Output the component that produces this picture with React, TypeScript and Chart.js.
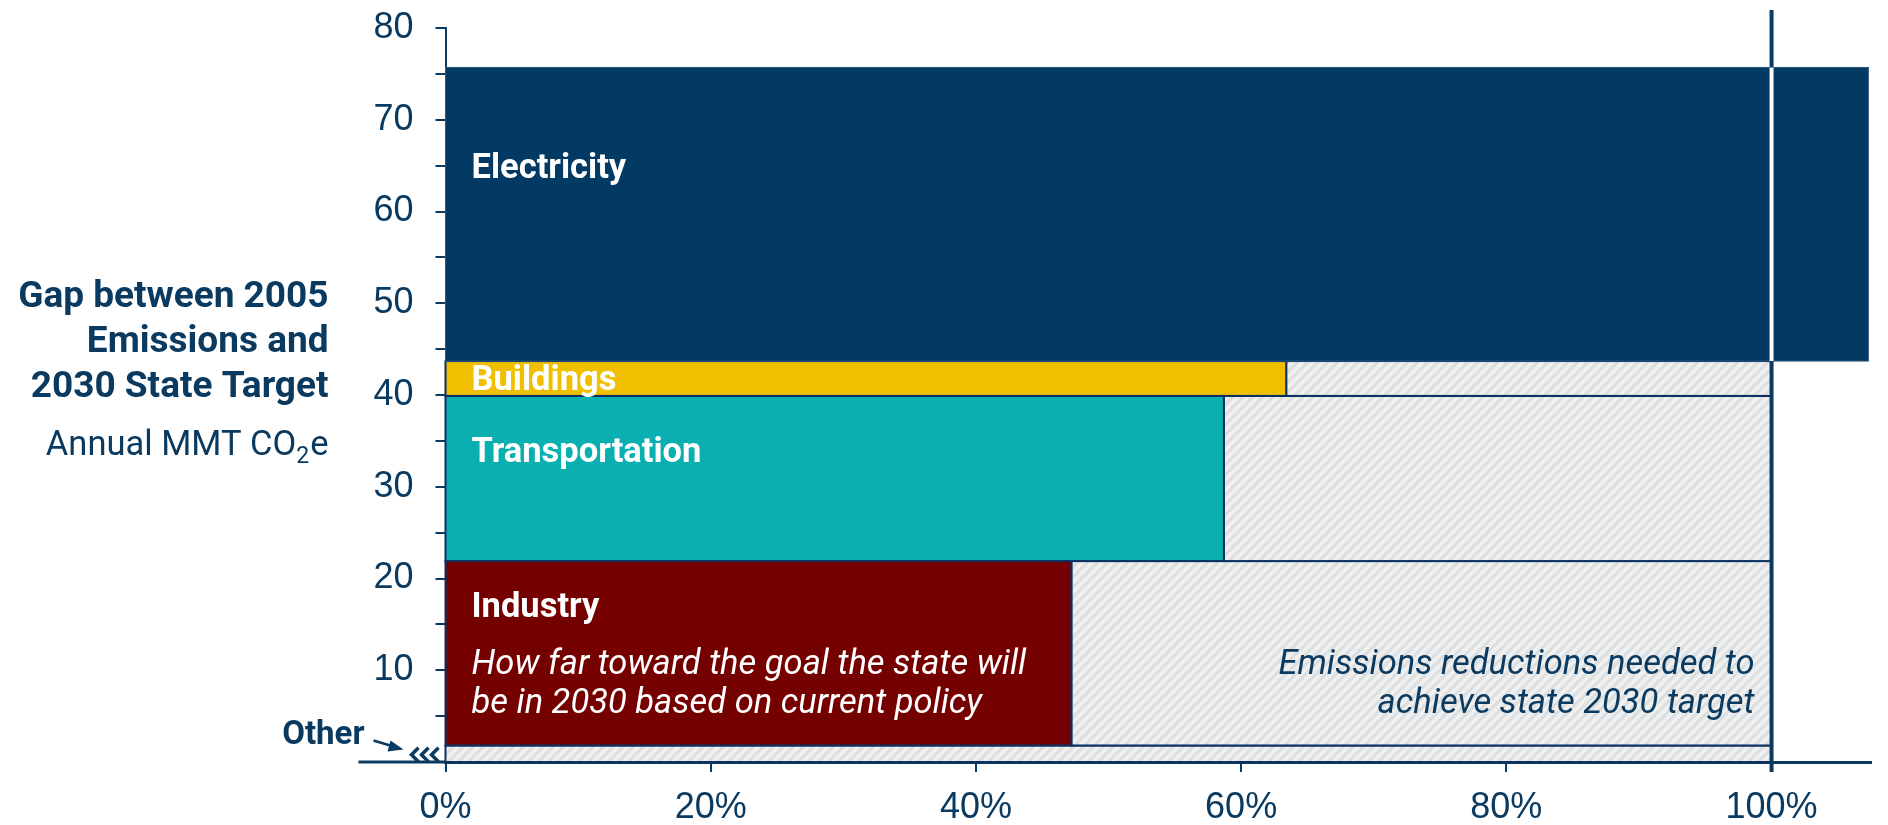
import React, { useEffect, useRef } from 'react';
import { Chart, registerables } from 'chart.js';

Chart.register(...registerables);

// ---- data ----
const sectors = ['Other', 'Industry', 'Transportation', 'Buildings', 'Electricity'];
const gapValues = [1.8, 20.1, 18.0, 3.8, 32.0]; // annual MMT CO2e gap per sector (stacked)
const progressPct = [-3, 47.2, 58.7, 63.4, 107.3]; // % of the way toward the 2030 goal
const targetPct = 100;
const xTickValues = [0, 20, 40, 60, 80, 100];
const yLabelValues = [10, 20, 30, 40, 50, 60, 70, 80];
const sectorColors = ['#f0f0f0', '#750000', '#0aafb0', '#f0c000', '#033a63'];
const titleLines = ['Gap between 2005', 'Emissions and', '2030 State Target'];
const unitParts = ['Annual MMT CO', '2', 'e'];
const progressNote = ['How far toward the goal the state will', 'be in 2030 based on current policy'];
const remainingNote = ['Emissions reductions needed to', 'achieve state 2030 target'];

const NAVY = '#0a3a60';
const BORDER = '#0c2f62';
const FONT = 'Roboto';
const TICK_FONT = '"Liberation Sans", Arial, sans-serif';

function makePattern(ctx: CanvasRenderingContext2D) {
  const c = document.createElement('canvas');
  c.width = 10;
  c.height = 10;
  const p = c.getContext('2d')!;
  p.fillStyle = '#f0f0f0';
  p.fillRect(0, 0, 10, 10);
  p.strokeStyle = '#dcdfe0';
  p.lineWidth = 3.2;
  p.beginPath();
  p.moveTo(-5, 5); p.lineTo(5, -5);
  p.moveTo(0, 10); p.lineTo(10, 0);
  p.moveTo(5, 15); p.lineTo(15, 5);
  p.stroke();
  return ctx.createPattern(c, 'repeat')!;
}

function segments(chart: any) {
  const { x, y } = chart.scales;
  let base = 0;
  return sectors.map((name, i) => {
    const y0 = base;
    const y1 = base + gapValues[i];
    base = y1;
    return {
      name,
      i,
      top: y.getPixelForValue(y1),
      bottom: y.getPixelForValue(y0),
      left: x.getPixelForValue(0),
      prog: x.getPixelForValue(Math.max(0, progressPct[i])),
      target: x.getPixelForValue(targetPct),
    };
  });
}

const mekkoPlugin = {
  id: 'mekko',
  beforeDatasetsDraw(chart: any) {
    const ctx: CanvasRenderingContext2D = chart.ctx;
    const pattern = makePattern(ctx);
    ctx.save();
    for (const s of segments(chart)) {
      const h = s.bottom - s.top;
      if (progressPct[s.i] < targetPct) {
        ctx.fillStyle = pattern;
        ctx.fillRect(s.prog, s.top, s.target - s.prog, h);
        ctx.strokeStyle = BORDER;
        ctx.lineWidth = 2;
        ctx.strokeRect(s.prog, s.top, s.target - s.prog, h);
      }
      if (progressPct[s.i] > 0) {
        ctx.fillStyle = sectorColors[s.i];
        ctx.fillRect(s.left, s.top, s.prog - s.left, h);
        if (progressPct[s.i] > targetPct) {
          ctx.strokeStyle = '#2c5880';
          ctx.lineWidth = 1;
        } else {
          ctx.strokeStyle = BORDER;
          ctx.lineWidth = 2;
        }
        ctx.strokeRect(s.left, s.top, s.prog - s.left, h);
      }
    }
    ctx.restore();
  },
  afterDraw(chart: any) {
    const ctx: CanvasRenderingContext2D = chart.ctx;
    const { chartArea } = chart;
    const segs = segments(chart);
    const left = chartArea.left;
    const bottom = chartArea.bottom;
    ctx.save();

    // x-axis extension to the left
    ctx.strokeStyle = NAVY;
    ctx.lineWidth = 3;
    ctx.beginPath();
    ctx.moveTo(left - 87, bottom);
    ctx.lineTo(left, bottom);
    ctx.stroke();

    // target line (100%)
    const xt = segs[0].target;
    ctx.lineWidth = 4;
    ctx.beginPath();
    ctx.moveTo(xt, chartArea.top - 18);
    ctx.lineTo(xt, bottom + 10);
    ctx.stroke();
    const elec = segs[segs.length - 1];
    ctx.strokeStyle = '#ffffff';
    ctx.lineWidth = 4;
    ctx.beginPath();
    ctx.moveTo(xt, elec.top);
    ctx.lineTo(xt, elec.bottom);
    ctx.stroke();

    // left title
    ctx.fillStyle = NAVY;
    ctx.textAlign = 'right';
    ctx.textBaseline = 'alphabetic';
    const rx = left - 117;
    ctx.font = `bold 37px ${FONT}`;
    titleLines.forEach((t, k) => ctx.fillText(t, rx, 307 + k * 45));
    // unit with subscript
    ctx.font = `34.5px ${FONT}`;
    const wE = ctx.measureText(unitParts[2]).width;
    ctx.fillText(unitParts[2], rx, 455);
    ctx.font = `23px ${FONT}`;
    const w2 = ctx.measureText(unitParts[1]).width;
    ctx.fillText(unitParts[1], rx - wE - 1, 463);
    ctx.font = `34.5px ${FONT}`;
    ctx.fillText(unitParts[0], rx - wE - w2 - 1, 455);

    // "Other" callout
    const other = segs[0];
    ctx.font = `bold 33px ${FONT}`;
    ctx.fillText(sectors[0], left - 81, other.top - 1);
    ctx.strokeStyle = NAVY;
    ctx.lineWidth = 2.5;
    ctx.beginPath();
    ctx.moveTo(left - 72, other.top - 5);
    ctx.lineTo(left - 52, other.top + 1);
    ctx.stroke();
    ctx.beginPath();
    ctx.moveTo(left - 42, other.top + 4);
    ctx.lineTo(left - 55, other.top - 5);
    ctx.lineTo(left - 58, other.top + 6);
    ctx.closePath();
    ctx.fillStyle = NAVY;
    ctx.fill();
    // chevrons (progress off-scale to the left)
    if (progressPct[0] < 0) {
      ctx.lineWidth = 3.5;
      ctx.lineJoin = 'miter';
      const cy = (other.top + other.bottom) / 2 + 1;
      for (let k = 0; k < 3; k++) {
        const tip = left - 34 + k * 10;
        ctx.beginPath();
        ctx.moveTo(tip + 7, cy - 7);
        ctx.lineTo(tip, cy);
        ctx.lineTo(tip + 7, cy + 7);
        ctx.stroke();
      }
    }

    // bar labels
    const lx = left + 26;
    ctx.textAlign = 'left';
    ctx.textBaseline = 'middle';
    ctx.fillStyle = '#ffffff';
    ctx.font = `bold 34.5px ${FONT}`;
    const offsets: Record<string, number> = { Industry: 47, Transportation: 57, Electricity: 102 };
    segs.forEach((s) => {
      if (s.name === 'Other') return;
      const yy = s.name === 'Buildings' ? (s.top + s.bottom) / 2 + 3 : s.top + offsets[s.name];
      ctx.fillText(s.name, lx, yy);
    });
    const ind = segs[1];
    ctx.font = `italic 34.5px ${FONT}`;
    progressNote.forEach((t, k) => ctx.fillText(t, lx, ind.top + 104 + k * 39));
    ctx.fillStyle = NAVY;
    ctx.textAlign = 'right';
    remainingNote.forEach((t, k) => ctx.fillText(t, xt - 17, ind.top + 104 + k * 39));

    ctx.restore();
  },
};

export default function App() {
  const ref = useRef<HTMLCanvasElement | null>(null);
  useEffect(() => {
    if (!ref.current) return;
    const chart = new Chart(ref.current, {
      type: 'scatter',
      data: { datasets: [] },
      options: {
        animation: false,
        responsive: false,
        events: [],
        layout: { padding: { top: 28, right: 17, left: 0, bottom: 0 } },
        plugins: { legend: { display: false }, tooltip: { enabled: false } },
        scales: {
          x: {
            type: 'linear',
            min: 0,
            max: 107.5,
            z: 1,
            afterBuildTicks: (s: any) => {
              s.ticks = xTickValues.map((v) => ({ value: v }));
            },
            afterFit: (s: any) => {
              s.height = 63;
              s.paddingLeft = 0;
              s.paddingRight = 0;
            },
            ticks: {
              callback: (v: any) => `${v}%`,
              color: NAVY,
              font: { family: TICK_FONT, size: 36 },
              padding: 14,
              maxRotation: 0,
              autoSkip: false,
            },
            grid: { drawOnChartArea: false, drawTicks: true, tickLength: 10, color: NAVY, lineWidth: 2 },
            border: { display: true, color: NAVY, width: 3 },
          },
          y: {
            type: 'linear',
            min: 0,
            max: 80,
            z: 1,
            afterFit: (s: any) => {
              s.width = 445.5;
              s.paddingTop = 0;
              s.paddingBottom = 0;
            },
            ticks: {
              stepSize: 5,
              autoSkip: false,
              callback: (v: any) => (yLabelValues.includes(Number(v)) ? String(v) : ''),
              color: NAVY,
              font: { family: TICK_FONT, size: 36 },
              padding: 22,
            },
            grid: { drawOnChartArea: false, drawTicks: true, tickLength: 10, color: NAVY, lineWidth: 2 },
            border: { display: true, color: NAVY, width: 2 },
          },
        },
      },
      plugins: [mekkoPlugin],
    } as any);
    return () => chart.destroy();
  }, []);
  return (
    <div style={{ position: 'fixed', left: 0, top: 0, width: 1888, height: 825, background: '#ffffff' }}>
      <canvas ref={ref} width={1888} height={825} style={{ display: 'block', width: 1888, height: 825 }} />
    </div>
  );
}
